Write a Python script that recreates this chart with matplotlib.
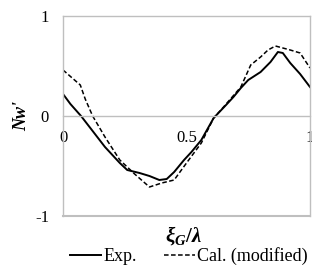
import numpy as np
import matplotlib
matplotlib.use('Agg')
import matplotlib.pyplot as plt
from matplotlib.font_manager import FontProperties

exp_x = [0.0, 0.03, 0.073, 0.12, 0.17, 0.23, 0.26, 0.31, 0.35, 0.39, 0.42, 0.45, 0.49, 0.52,
         0.56, 0.61, 0.66, 0.69, 0.72, 0.75, 0.80, 0.84, 0.87, 0.89, 0.92, 0.96, 1.0]
exp_y = [0.22, 0.12, 0.0, -0.15, -0.31, -0.47, -0.54, -0.57, -0.60, -0.64, -0.63, -0.56, -0.44, -0.36,
         -0.24, -0.02, 0.11, 0.19, 0.28, 0.36, 0.44, 0.54, 0.64, 0.63, 0.53, 0.42, 0.29]

cal_x = [0.0, 0.07, 0.09, 0.12, 0.17, 0.23, 0.29, 0.35, 0.40, 0.45, 0.50, 0.56, 0.61, 0.65,
         0.72, 0.76, 0.80, 0.83, 0.86, 0.92, 0.96, 1.0]
cal_y = [0.46, 0.31, 0.17, 0.0, -0.21, -0.44, -0.58, -0.71, -0.67, -0.64, -0.47, -0.27, -0.02, 0.09,
         0.29, 0.51, 0.59, 0.66, 0.70, 0.66, 0.63, 0.48]

x_ticks = [0, 0.5, 1]
x_tick_labels = ['0', '0.5', '1']
y_ticks = [-1, 0, 1]
y_tick_labels = ['-1', '0', '1']

plt.rcParams['font.family'] = 'Liberation Serif'
plt.rcParams['mathtext.fontset'] = 'custom'
plt.rcParams['mathtext.it'] = 'Liberation Serif:italic:bold'
plt.rcParams['mathtext.rm'] = 'Liberation Serif:bold'

grey = '#bfbfbf'

fig = plt.figure(figsize=(3.12, 2.66), dpi=100)
ax = fig.add_axes([63 / 312, 1 - 216 / 266, 247 / 312, 200 / 266])

ax.plot(exp_x, exp_y, color='black', lw=1.4, label='Exp.')
ax.plot(cal_x, cal_y, color='black', lw=1.1, linestyle=(0, (3, 1.6)), label='Cal. (modified)')

ax.set_xlim(0, 1)
ax.set_ylim(-1, 1)

for s in ['left', 'right', 'top', 'bottom']:
    ax.spines[s].set_color(grey)
    ax.spines[s].set_linewidth(1.0)
ax.spines['bottom'].set_position(('data', 0))
ax.axhline(-1, color=grey, lw=1.5, clip_on=False)

ax.set_xticks(x_ticks)
ax.set_xticklabels(x_tick_labels)
ax.set_yticks(y_ticks)
ax.set_yticklabels(y_tick_labels)
ax.tick_params(axis='x', length=0, pad=10, labelsize=12)
ax.tick_params(axis='y', length=0, pad=10, labelsize=12)

label_font = FontProperties(family='Liberation Serif', style='italic', weight='bold', size=13)
fig.text(22 / 312, 1 - 116 / 266, "Nw'", rotation=90, fontproperties=label_font,
         ha='center', va='center')
fig.text(183 / 312, 1 - 236 / 266, r'$\xi_G/\lambda$', fontsize=15, ha='center', va='center')

fig.legend(loc='center', bbox_to_anchor=(189 / 312, 1 - 256 / 266), ncol=2, frameon=False,
           fontsize=13, handlelength=1.7, handletextpad=0.15, columnspacing=1.5,
           borderpad=0, borderaxespad=0)

fig.savefig('out.png', dpi=100)
